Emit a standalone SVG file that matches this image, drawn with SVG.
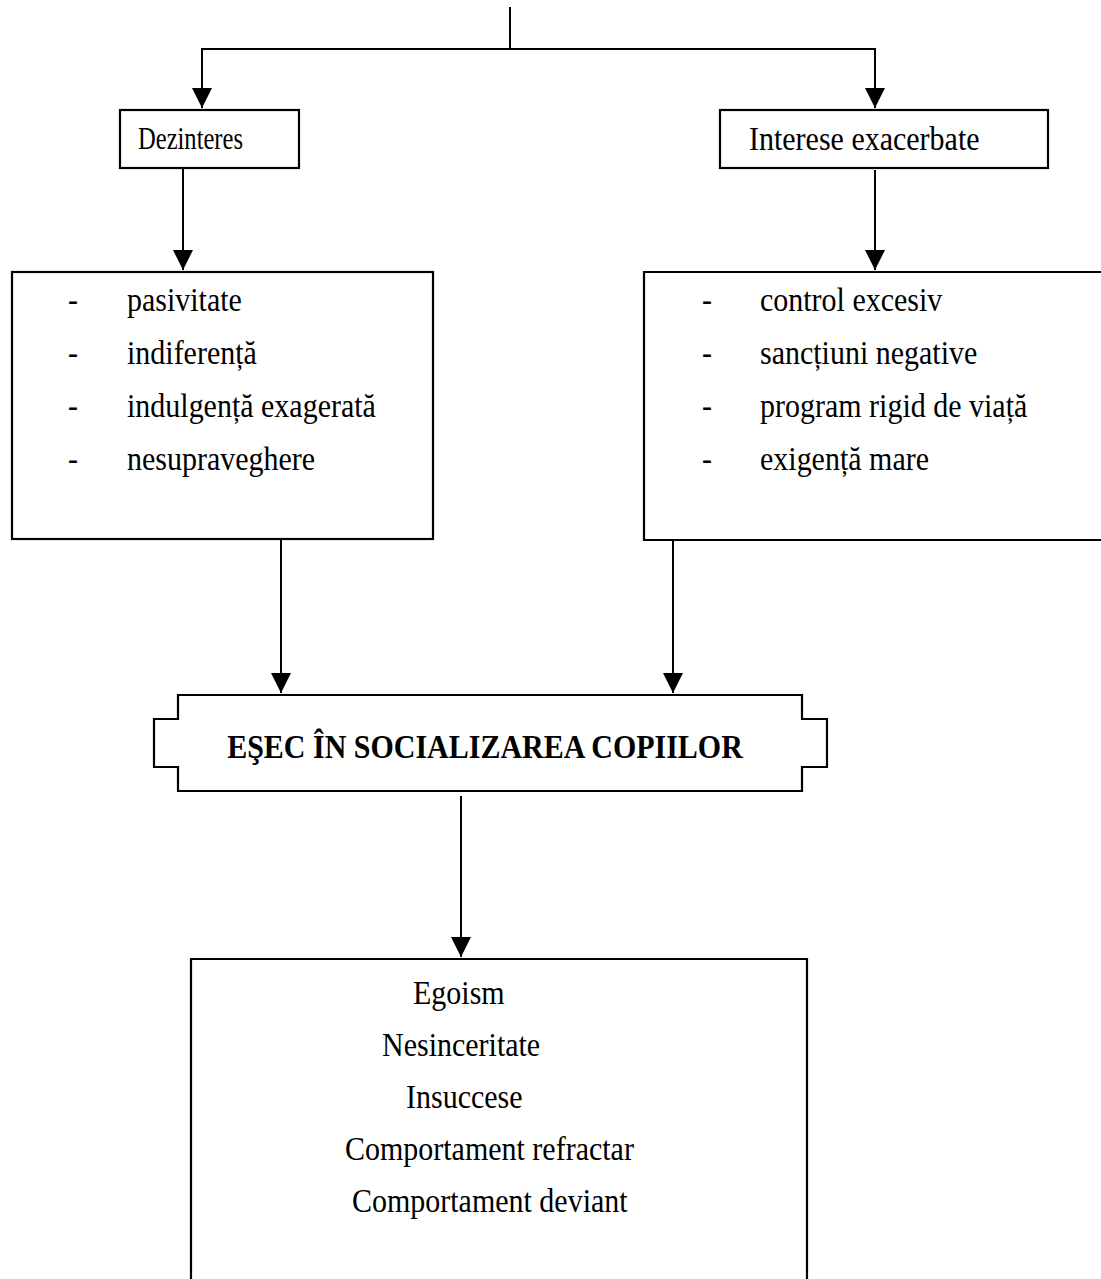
<svg xmlns="http://www.w3.org/2000/svg" width="1101" height="1279" viewBox="0 0 1101 1279">
  <defs>
    <marker id="arrow" markerUnits="userSpaceOnUse" markerWidth="20" markerHeight="20" refX="20" refY="10" orient="auto">
      <path d="M0,0 L20,10 L0,20 Z" fill="#000"/>
    </marker>
    <style>
      .box { fill: #fff; stroke: #000; stroke-width: 2.2; }
      .link { fill: none; stroke: #000; stroke-width: 2; }
      .t { font-family: "Liberation Serif", "Times New Roman", serif; font-size: 30px; fill: #000;
           transform-box: fill-box; transform-origin: center; transform: scaleY(1.15); }
      .b { font-weight: bold; }
    </style>
  </defs>

  <!-- connectors -->
  <g id="connectors">
    <line class="link" x1="510" y1="7" x2="510" y2="49"/>
    <polyline class="link" points="510,49 202,49 202,108" marker-end="url(#arrow)"/>
    <polyline class="link" points="510,49 875,49 875,108" marker-end="url(#arrow)"/>
    <line class="link" x1="183" y1="168" x2="183" y2="270" marker-end="url(#arrow)"/>
    <line class="link" x1="875" y1="170" x2="875" y2="270" marker-end="url(#arrow)"/>
    <line class="link" x1="281" y1="540" x2="281" y2="693" marker-end="url(#arrow)"/>
    <line class="link" x1="673" y1="535" x2="673" y2="693" marker-end="url(#arrow)"/>
    <line class="link" x1="461" y1="796" x2="461" y2="957" marker-end="url(#arrow)"/>
  </g>

  <!-- upper branch boxes -->
  <g id="dezinteres">
    <rect class="box" x="120" y="110" width="179" height="58"/>
    <text class="t" x="138" y="148" style="font-size:27px" textLength="105" lengthAdjust="spacingAndGlyphs">Dezinteres</text>
  </g>
  <g id="interese">
    <rect class="box" x="720" y="110" width="328" height="58"/>
    <text class="t" x="749" y="148">Interese exacerbate</text>
  </g>

  <!-- attitude lists -->
  <g id="lista-dezinteres">
    <rect class="box" x="12" y="272" width="421" height="267"/>
    <text class="t" x="68" y="309">-</text>
    <text class="t" x="127" y="309">pasivitate</text>
    <text class="t" x="68" y="362">-</text>
    <text class="t" x="127" y="362">indiferență</text>
    <text class="t" x="68" y="415">-</text>
    <text class="t" x="127" y="415">indulgență exagerată</text>
    <text class="t" x="68" y="468">-</text>
    <text class="t" x="127" y="468">nesupraveghere</text>
  </g>
  <g id="lista-interese">
    <path class="box" d="M1110,272 H644 V540 H1110"/>
    <text class="t" x="702" y="309">-</text>
    <text class="t" x="760" y="309">control excesiv</text>
    <text class="t" x="702" y="362">-</text>
    <text class="t" x="760" y="362">sancțiuni negative</text>
    <text class="t" x="702" y="415">-</text>
    <text class="t" x="760" y="415">program rigid de viață</text>
    <text class="t" x="702" y="468">-</text>
    <text class="t" x="760" y="468">exigență mare</text>
  </g>

  <!-- central outcome -->
  <g id="esec">
    <path class="box" d="M178,695 H802 V719 H827 V767 H802 V791 H178 V767 H154 V719 H178 Z"/>
    <text class="t b" x="485" y="756" text-anchor="middle">EŞEC ÎN SOCIALIZAREA COPIILOR</text>
  </g>

  <!-- consequences -->
  <g id="consecinte">
    <path class="box" d="M191,1290 V959 H807 V1290"/>
    <text class="t" x="413" y="1002">Egoism</text>
    <text class="t" x="382" y="1054">Nesinceritate</text>
    <text class="t" x="406" y="1106">Insuccese</text>
    <text class="t" x="345" y="1158">Comportament refractar</text>
    <text class="t" x="352" y="1210">Comportament deviant</text>
  </g>
</svg>
